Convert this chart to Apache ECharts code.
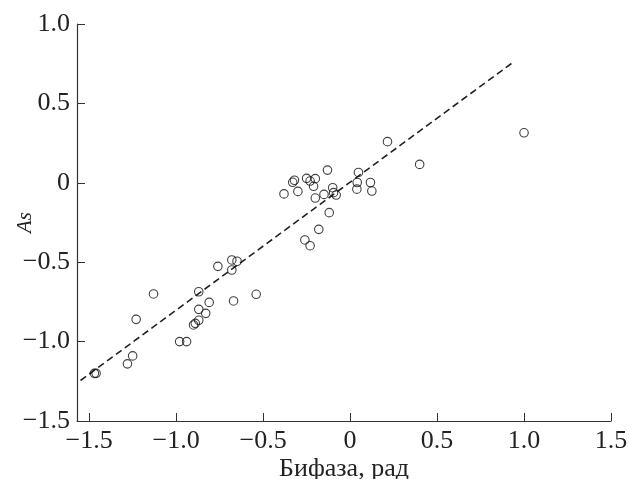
<!DOCTYPE html>
<html>
<head>
<meta charset="utf-8">
<script src="https://cdn.jsdelivr.net/npm/echarts@6/dist/echarts.min.js"></script>
<style>
  html, body { margin: 0; padding: 0; background: #fff; }
  #main { width: 629px; height: 479px; }
</style>
</head>
<body>
<div id="main"></div>
<script>
// bifaza (rad) vs As
var biphase = [-1.47, -1.46, -1.28, -1.25, -1.23, -1.13, -0.98, -0.94, -0.90, -0.89,
  -0.87, -0.87, -0.87, -0.83, -0.81, -0.76, -0.68, -0.65, -0.68, -0.67, -0.54,
  -0.38, -0.33, -0.32, -0.30, -0.25, -0.23, -0.20, -0.21, -0.20, -0.13, -0.15,
  -0.10, -0.095, -0.08, -0.12, -0.18, -0.26, -0.23, 0.048, 0.041, 0.039, 0.117,
  0.125, 0.215, 0.40, 1.0];
var asym = [-1.20, -1.20, -1.14, -1.09, -0.86, -0.70, -1.00, -1.00, -0.895, -0.885,
  -0.866, -0.686, -0.797, -0.822, -0.753, -0.526, -0.486, -0.494, -0.549, -0.744, -0.702,
  -0.07, 0.003, 0.016, -0.054, 0.028, 0.011, 0.026, -0.022, -0.096, 0.08, -0.073,
  -0.031, -0.062, -0.077, -0.188, -0.293, -0.36, -0.396, 0.065, 0.002, -0.04, 0.002,
  -0.052, 0.259, 0.116, 0.315];
// dashed regression line ends
var fitX = [-1.55, 0.93];
var fitY = [-1.245, 0.753];

var xTicks = [-1.5, -1.0, -0.5, 0, 0.5, 1.0, 1.5];

function fmt(v) {
  if (Math.abs(v) < 1e-9) return '0';
  return (v < 0 ? '\u2212' : '') + Math.abs(v).toFixed(1);
}

var points = biphase.map(function (x, i) { return [x, asym[i]]; });
var fitLine = fitX.map(function (x, i) { return [x, fitY[i]]; });

var chart = echarts.init(document.getElementById('main'));
var font = 'Liberation Serif';
chart.setOption({
  animation: false,
  grid: { left: 77, right: 18, top: 24, bottom: 58, outerBoundsMode: 'none' },
  xAxis: {
    type: 'value',
    min: -1.57,
    max: 1.5,
    name: 'Бифаза, рад',
    nameLocation: 'middle',
    nameGap: 35,
    nameMoveOverlap: false,
    nameTextStyle: { fontFamily: font, fontSize: 26, color: '#222' },
    splitLine: { show: false },
    axisLine: { onZero: false, lineStyle: { color: '#333', width: 1.2 } },
    axisTick: { inside: true, length: 8, customValues: xTicks, lineStyle: { color: '#333' } },
    axisLabel: { customValues: xTicks, formatter: fmt, margin: 7,
      fontFamily: font, fontSize: 26, color: '#222' }
  },
  yAxis: {
    type: 'value',
    min: -1.5,
    max: 1.0,
    interval: 0.5,
    name: 'As',
    nameLocation: 'middle',
    nameGap: 41,
    nameMoveOverlap: false,
    nameTextStyle: { fontFamily: font, fontSize: 21, fontStyle: 'italic', color: '#222' },
    splitLine: { show: false },
    axisLine: { show: true, onZero: false, lineStyle: { color: '#333', width: 1.2 } },
    axisTick: { show: true, inside: true, length: 8, lineStyle: { color: '#333' } },
    axisLabel: { formatter: fmt, margin: 7, fontFamily: font, fontSize: 26, color: '#222' }
  },
  series: [
    {
      type: 'line',
      data: fitLine,
      symbol: 'none',
      lineStyle: { color: '#222', width: 1.6, type: [7, 4] },
      z: 1
    },
    {
      type: 'scatter',
      data: points,
      symbol: 'circle',
      symbolSize: 8.5,
      itemStyle: { color: 'rgba(255,255,255,0)', borderColor: '#111', borderWidth: 1.1 },
      z: 2
    }
  ]
});
</script>
</body>
</html>
